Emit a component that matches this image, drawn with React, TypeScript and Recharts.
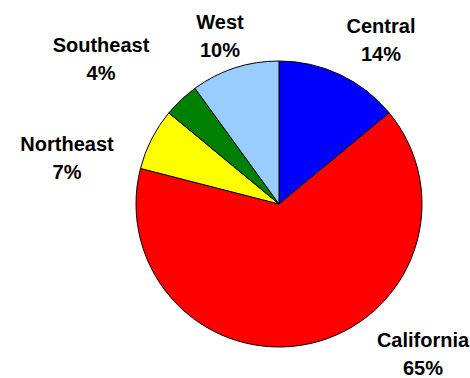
import { PieChart, Pie, Cell } from "recharts";

// ─────────────────────────────────────────
// DATA
// ─────────────────────────────────────────

const regions = ["Central", "California", "Northeast", "Southeast", "West"];
const shares = [14, 65, 7, 4, 10];
const sliceColors = ["#0000FF", "#FF0000", "#FFFF00", "#008000", "#99CCFF"];

const data = regions.map((name, i) => ({ name, value: shares[i] }));

// Label placement (offset from pie centre, in px), Excel-style manual layout
const labelOffsets: Record<string, { dx: number; dy: number }> = {
  Central: { dx: 102, dy: -164 },
  California: { dx: 144, dy: 150 },
  Northeast: { dx: -212, dy: -46 },
  Southeast: { dx: -178, dy: -145 },
  West: { dx: -59, dy: -168 },
};

const LINE_GAP = 14;

const renderLabel = (props: any) => {
  const { cx, cy, name, value } = props;
  const off = labelOffsets[name] ?? { dx: 0, dy: 0 };
  const x = cx + off.dx;
  const y = cy + off.dy;
  return (
    <text
      x={x}
      y={y}
      textAnchor="middle"
      fill="#000"
      fontFamily="'Liberation Sans', Arial, sans-serif"
      fontWeight="bold"
      fontSize={20}
    >
      <tspan x={x} y={y - LINE_GAP} dominantBaseline="central">
        {name}
      </tspan>
      <tspan x={x} y={y + LINE_GAP} dominantBaseline="central">
        {`${value}%`}
      </tspan>
    </text>
  );
};

const App = () => {
  return (
    <div style={{ position: "absolute", left: 0, top: 0, background: "#fff" }}>
      <PieChart width={470} height={378}>
        <Pie
          data={data}
          dataKey="value"
          nameKey="name"
          cx={274}
          cy={199}
          outerRadius={143}
          startAngle={90}
          endAngle={-270}
          stroke="#000"
          strokeWidth={1}
          label={renderLabel}
          labelLine={false}
          isAnimationActive={false}
        >
          {data.map((d, i) => (
            <Cell key={d.name} fill={sliceColors[i]} />
          ))}
        </Pie>
      </PieChart>
    </div>
  );
};

export default App;
